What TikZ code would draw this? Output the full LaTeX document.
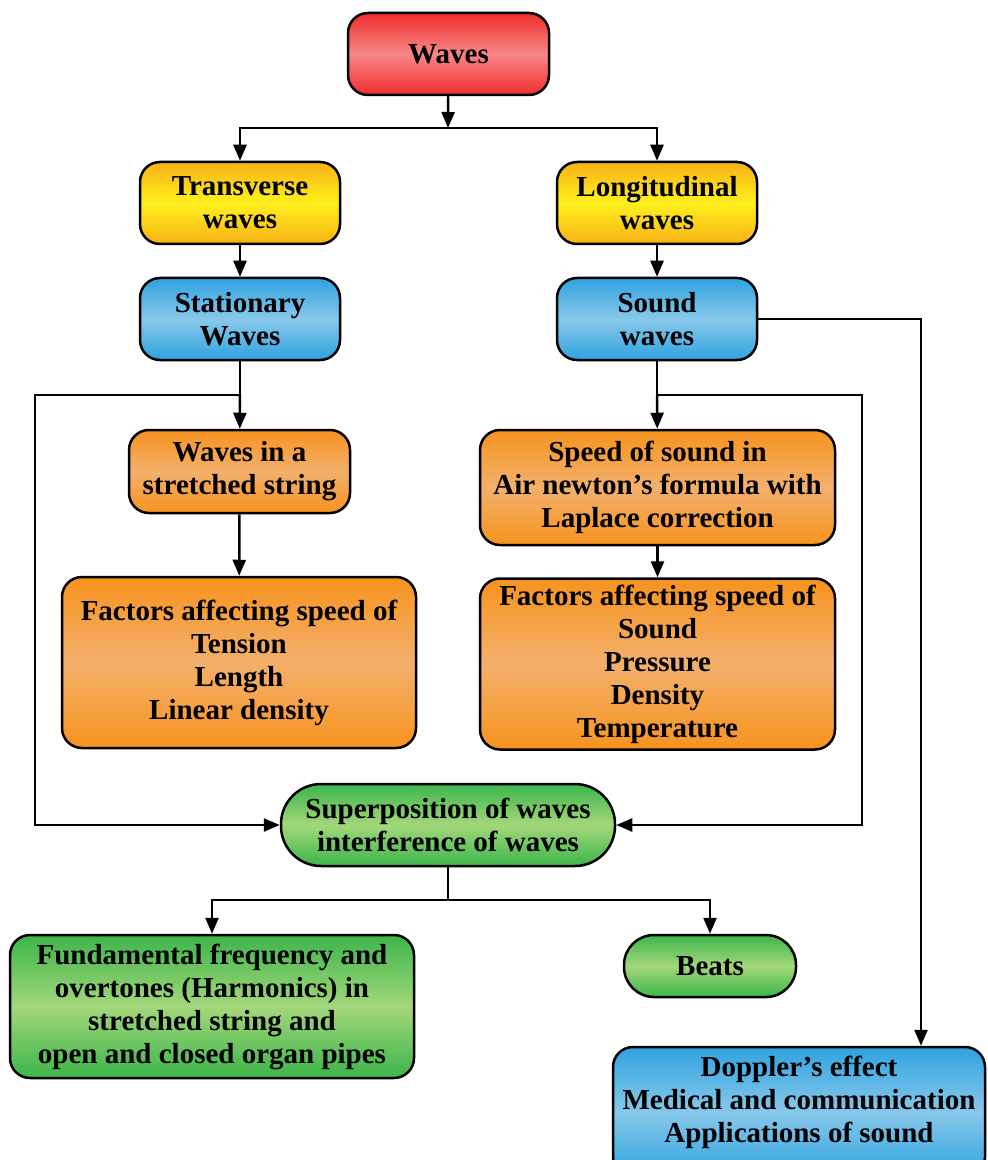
\documentclass[tikz,border=0pt]{standalone}
\usepackage{fontspec}
\setmainfont{Liberation Serif}
\usetikzlibrary{arrows.meta}
\definecolor{redE}{HTML}{EE2D2D}\definecolor{redM}{HTML}{F98686}
\definecolor{yelE}{HTML}{F8B116}\definecolor{yelM}{HTML}{FFF01E}
\definecolor{bluE}{HTML}{2EA3E0}\definecolor{bluM}{HTML}{88C8EA}
\definecolor{orgE}{HTML}{F7931E}\definecolor{orgM}{HTML}{F3B06C}
\definecolor{grnE}{HTML}{3CB54A}\definecolor{grnM}{HTML}{A3D77B}
\tikzset{
  box/.style={draw, line width=1.25pt, rounded corners=10pt, align=center, inner sep=2pt,
    font=\bfseries\fontsize{14.5}{16.5}\selectfont},
  redbox/.style={box, top color=redE, bottom color=redE, middle color=redM},
  yelbox/.style={box, top color=yelE, bottom color=yelE, middle color=yelM},
  blubox/.style={box, top color=bluE, bottom color=bluE, middle color=bluM},
  orgbox/.style={box, top color=orgE, bottom color=orgE, middle color=orgM},
  grnbox/.style={box, top color=grnE, bottom color=grnE, middle color=grnM},
  ln/.style={line width=1.25pt},
  arr/.style={line width=1.25pt, -{Triangle[length=8pt,width=6.5pt]}}
}
\begin{document}
\begin{tikzpicture}[x=0.5pt,y=-0.5pt]
    \useasboundingbox (0,0) rectangle (987,1160);
    \node[redbox, minimum width=100.5pt, minimum height=41pt] (waves) at (448.5,54) {Waves};
    \node[yelbox, minimum width=100pt, minimum height=41pt] (trans) at (240,203) {Transverse\\waves};
    \node[yelbox, minimum width=100pt, minimum height=41pt] (longi) at (657,203) {Longitudinal\\waves};
    \node[blubox, minimum width=100pt, minimum height=41pt] (stat) at (240,319) {Stationary\\Waves};
    \node[blubox, minimum width=100pt, minimum height=41pt] (sound) at (657,319) {Sound\\waves};
    \node[orgbox, minimum width=110.5pt, minimum height=41.5pt] (string) at (239.5,471.5) {Waves in a\\stretched string};
    \node[orgbox, minimum width=177.5pt, minimum height=57.5pt] (speed) at (657.5,487.5)
      {Speed of sound in\\Air newton’s formula with\\Laplace correction};
    \node[orgbox, minimum width=177pt, minimum height=85.5pt] (facl) at (239,662.5)
      {Factors affecting speed of\\Tension\\Length\\Linear density};
    \node[orgbox, minimum width=177.5pt, minimum height=85.5pt] (facr) at (657.5,664)
      {Factors affecting speed of\\Sound\\Pressure\\Density\\Temperature};
    \node[grnbox, rounded corners=20pt, minimum width=167pt, minimum height=41pt] (super) at (448,825)
      {Superposition of waves\\interference of waves};
    \node[grnbox, minimum width=202pt, minimum height=71.5pt] (fund) at (212,1006.5)
      {Fundamental frequency and\\overtones (Harmonics) in\\stretched string and\\open and closed organ pipes};
    \node[grnbox, rounded corners=15pt, minimum width=86pt, minimum height=31pt] (beats) at (710,966) {Beats};
    \node[blubox, minimum width=186pt, minimum height=65pt, text depth=13pt] (dopp) at (799,1112)
      {Doppler’s effect\\Medical and communication\\Applications of sound};
    \coordinate (t1) at (448,128);
    \coordinate (t2) at (240,395); \coordinate (lft) at (35,600);
    \coordinate (t3) at (657,395); \coordinate (rgt) at (862,600);
    \coordinate (t4) at (448,900); \coordinate (c4) at (921,319);
    \draw[arr] (waves) -- (t1);
    \draw[arr] (t1) -| (trans); \draw[arr] (t1) -| (longi);
    \draw[arr] (trans) -- (stat); \draw[arr] (longi) -- (sound);
    \draw[ln] (stat) -- (t2); \draw[arr] (t2) -- (string);
    \draw[arr] (t2) -| (lft) |- (super);
    \draw[ln] (sound) -- (t3); \draw[arr] (t3) -- (speed);
    \draw[arr] (t3) -| (rgt) |- (super);
    \draw[arr] (string) -- (facl); \draw[arr] (speed) -- (facr);
    \draw[arr] (sound.east) -- (c4) -- (dopp.north -| c4);
    \draw[ln] (super) -- (t4);
    \draw[arr] (t4) -| (fund); \draw[arr] (t4) -| (beats);
\end{tikzpicture}
\end{document}
